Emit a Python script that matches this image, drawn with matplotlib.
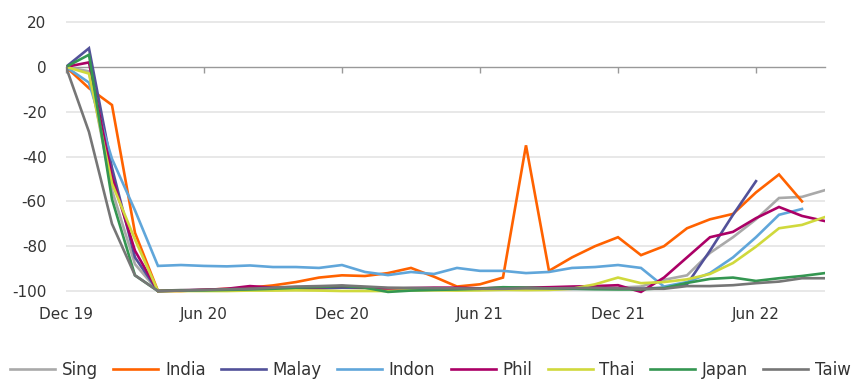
import numpy as np
import matplotlib.pyplot as plt

plt.rcParams['axes.unicode_minus'] = False

# Monthly readings, Dec 19 .. Sep 22 (34 months)
nan = np.nan
sing = [0, -2, -55, -88, -100, -99.5, -99.5, -99.3, -99, -99, -99, -98.8, -98.5, -98.8, -99, -99, -99.2,
        -99.3, -99.2, -99, -99, -99.2, -99, -98.8, -98.5, -98, -95, -93, -83, -76, -68, -58.5, -58, -55]
india = [0, -9.5, -17, -74, -100, -100, -99.5, -99, -98.5, -97.5, -96, -94, -93, -93.3, -92, -89.7, -93.6,
         -98, -97, -94, -35, -91, -85, -80, -76, -84, -80, -72, -68, -65.6, -56, -48, -60, nan]
malay = [0, 8.3, -45, -85, -100, -99.8, -99.5, -99.3, -99, -99, -99, -98.8, -98.5, -98.5, -98.8, -99, -99,
         -99, -99.2, -99.2, -99, -99, -99, -99, -99, -99, -98.5, -97, -82, -66, -51, nan, nan, nan]
indon = [0, -7, -41, -64, -88.8, -88.4, -88.8, -89, -88.6, -89.3, -89.3, -89.7, -88.4, -91.5, -92.9, -91.5,
         -92.4, -89.7, -91, -91, -92, -91.5, -89.7, -89.3, -88.4, -89.7, -98, -96, -92, -85, -76, -66, -63.4, nan]
phil = [0, 2, -49, -82, -100, -99.7, -99.5, -99, -97.8, -98.5, -98.5, -98.3, -97.8, -98.5, -99, -98.7, -98.5,
        -98.5, -98.8, -98.5, -98.5, -98.3, -98, -97.8, -97.4, -100.4, -94, -85, -76, -73.6, -67.5, -62.5, -66.5, -68.8]
thai = [0, -3, -52, -77, -100, -100, -100, -100, -99.8, -99.8, -99.7, -99.8, -100, -100, -100, -99.7, -99.7,
        -99.8, -99.7, -99.5, -99.6, -99.5, -99, -97, -94, -96.5, -96, -94.8, -92.4, -87.5, -80.2, -72, -70.5, -67]
japan = [0, 5.4, -59, -93, -100, -99.8, -99.7, -99.5, -99.3, -99, -98.5, -98.2, -97.8, -98.5, -100.4, -99.8,
         -99.5, -99.3, -99, -98.3, -98.5, -98.8, -99, -99.2, -99.3, -99.3, -98.7, -96.4, -94.6, -94, -95.5, -94.3, -93.3, -92]
taiw = [0, -29, -70, -93, -100, -99.8, -99.5, -99.2, -99, -98.5, -98, -97.8, -97.5, -98, -98.5, -98.6, -98.7,
        -98.8, -99, -99, -98.8, -98.8, -98.7, -98.6, -98.8, -99, -99, -97.8, -97.8, -97.4, -96.5, -95.8, -94.3, -94.3]

names = ['Sing', 'India', 'Malay', 'Indon', 'Phil', 'Thai', 'Japan', 'Taiw']
colors = ['#A9A9A9', '#FF6200', '#525199', '#60A6DA', '#AB0066', '#D0D93C', '#349651', '#767676']
tick_pos = [0, 6, 12, 18, 24, 30]
tick_labels = ['Dec 19', 'Jun 20', 'Dec 20', 'Jun 21', 'Dec 21', 'Jun 22']
y_ticks = [-100, -80, -60, -40, -20, 0, 20]

series = [sing, india, malay, indon, phil, thai, japan, taiw]
months = np.arange(len(sing))

fig = plt.figure(figsize=(8.6, 3.81), dpi=100)
ax = fig.add_axes([0.0767, 0.2244, 0.8826, 0.7236])

for name, vals, col in zip(names, series, colors):
    ax.plot(months, vals, color=col, lw=1.9, label=name, solid_joinstyle='miter')

ax.set_xlim(0, 33)
ax.set_ylim(-102, 21)
ax.set_yticks(y_ticks)
ax.set_xticks(tick_pos)
ax.set_xticklabels(tick_labels)
ax.tick_params(axis='both', length=0, labelsize=11, colors='#333333')
ax.tick_params(axis='y', pad=14)
ax.tick_params(axis='x', pad=8)
for v in y_ticks:
    if v != 0:
        ax.axhline(v, color='#E6E6E6', lw=1.3, zorder=0)
for s in ax.spines.values():
    s.set_visible(False)

# zero line with small tick marks
zero = ax.secondary_xaxis(0, transform=ax.transData)
zero.set_xticks(tick_pos)
zero.set_xticklabels([])
zero.tick_params(length=4, width=1, color='#999999', direction='out')
zero.spines['bottom'].set_color('#999999')
zero.spines['bottom'].set_linewidth(1)
zero.set_zorder(0.5)

fig.legend(loc='center left', bbox_to_anchor=(0.012, 0.029), ncol=8, frameon=False,
           fontsize=12, handlelength=2.7, handletextpad=0.4, columnspacing=0.92,
           borderpad=0, borderaxespad=0, labelcolor='#333333')

fig.savefig('out.png', dpi=100)
